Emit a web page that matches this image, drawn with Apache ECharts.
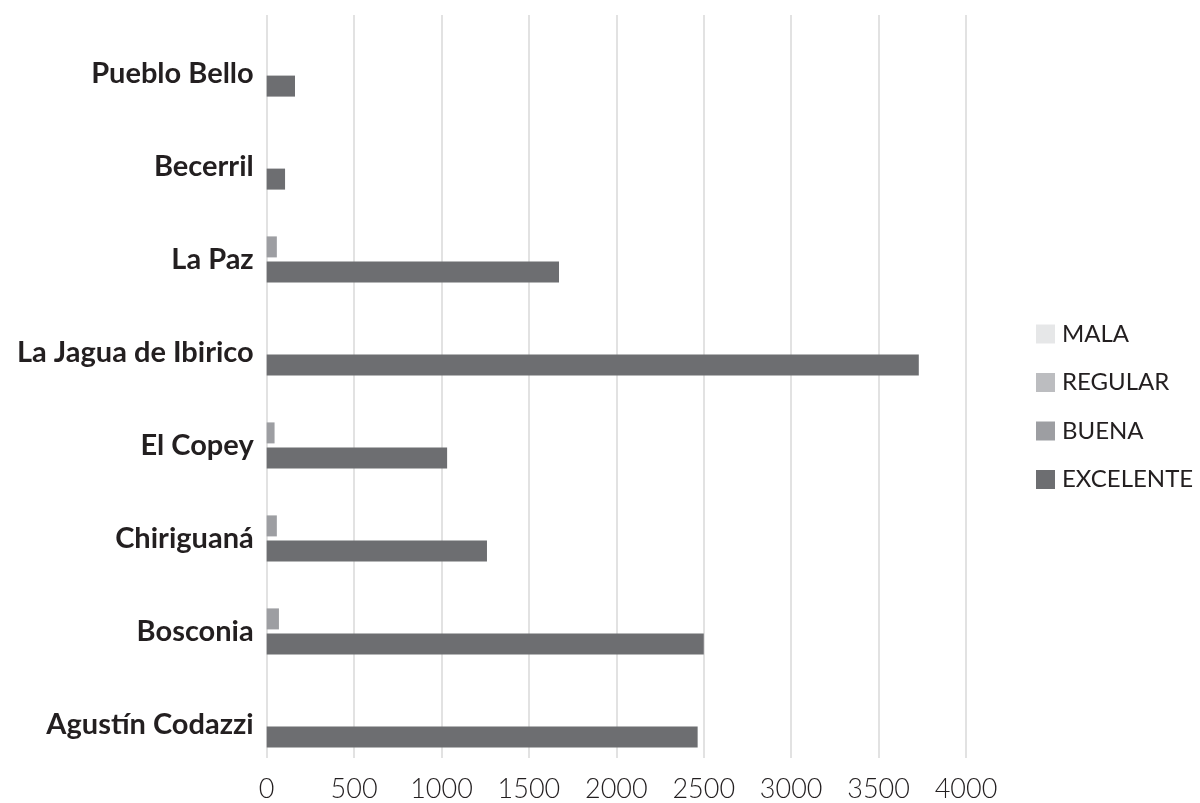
<!DOCTYPE html>
<html>
<head>
<meta charset="utf-8">
<style>html,body{margin:0;padding:0;background:#fff}#c{width:1200px;height:803px}</style>
<script src="https://cdn.jsdelivr.net/npm/echarts@6/dist/echarts.min.js"></script>
</head>
<body>
<div id="c"></div>
<script>
const categories = ['Agustín Codazzi','Bosconia','Chiriguaná','El Copey','La Jagua de Ibirico','La Paz','Becerril','Pueblo Bello'];
const seriesNames = ['MALA','REGULAR','BUENA','EXCELENTE'];
const mala      = [0, 0, 0, 0, 0, 0, 0, 0];
const regular   = [0, 0, 0, 0, 0, 0, 0, 0];
const buena     = [0, 70, 58, 45, 0, 58, 0, 0];
const excelente = [2465, 2500, 1260, 1032, 3730, 1672, 105, 162];
const xTicks = {min: 0, max: 4000, interval: 500};
const colors = ['#e6e7e8','#bcbdc0','#9d9ea2','#6d6e71'];

const chart = echarts.init(document.getElementById('c'), null, {renderer: 'canvas'});
const L = 266.7, R = 1200 - 966;
const option = {
  animation: false,
  backgroundColor: '#ffffff',
  color: colors,
  grid: [
    {left: L, right: R, top: 15, bottom: 43},
    {left: L, right: R, top: 27, bottom: 32}
  ],
  legend: {
    orient: 'vertical',
    left: 1031, top: 317,
    itemWidth: 19, itemHeight: 19, itemGap: 24.5,
    icon: 'rect',
    data: seriesNames,
    textStyle: {fontFamily: 'Lato', fontSize: 24, color: '#231f20', padding: [0,0,0,2]}
  },
  xAxis: [
    {gridIndex: 0, type: 'value', min: xTicks.min, max: xTicks.max, interval: xTicks.interval,
     axisLine: {show: false}, axisTick: {show: false},
     splitLine: {show: true, lineStyle: {color: '#d9d9d9', width: 1.5}},
     axisLabel: {fontFamily: 'Lato', fontWeight: 300, fontSize: 27, color: '#231f20', margin: 18,
                 formatter: function (v) { return String(v); }}},
    {gridIndex: 1, type: 'value', min: xTicks.min, max: xTicks.max, interval: xTicks.interval,
     show: false, splitLine: {show: false}}
  ],
  yAxis: [
    {gridIndex: 0, type: 'category', data: categories, show: false},
    {gridIndex: 1, type: 'category', data: categories,
     axisLine: {show: false}, axisTick: {show: false},
     axisLabel: {fontFamily: 'Lato', fontWeight: 'bold', fontSize: 29, color: '#231f20', margin: 13}}
  ],
  series: [
    {name: 'MALA', type: 'bar', xAxisIndex: 1, yAxisIndex: 1, stack: 'a', data: mala, barWidth: 21, barGap: '20%'},
    {name: 'REGULAR', type: 'bar', xAxisIndex: 1, yAxisIndex: 1, stack: 'a', data: regular, barWidth: 21, barGap: '20%'},
    {name: 'BUENA', type: 'bar', xAxisIndex: 1, yAxisIndex: 1, stack: 'a', data: buena, barWidth: 21, barGap: '20%'},
    {name: 'EXCELENTE', type: 'bar', xAxisIndex: 1, yAxisIndex: 1, data: excelente, barWidth: 21, barGap: '20%'}
  ]
};
chart.setOption(option);
</script>
</body>
</html>
